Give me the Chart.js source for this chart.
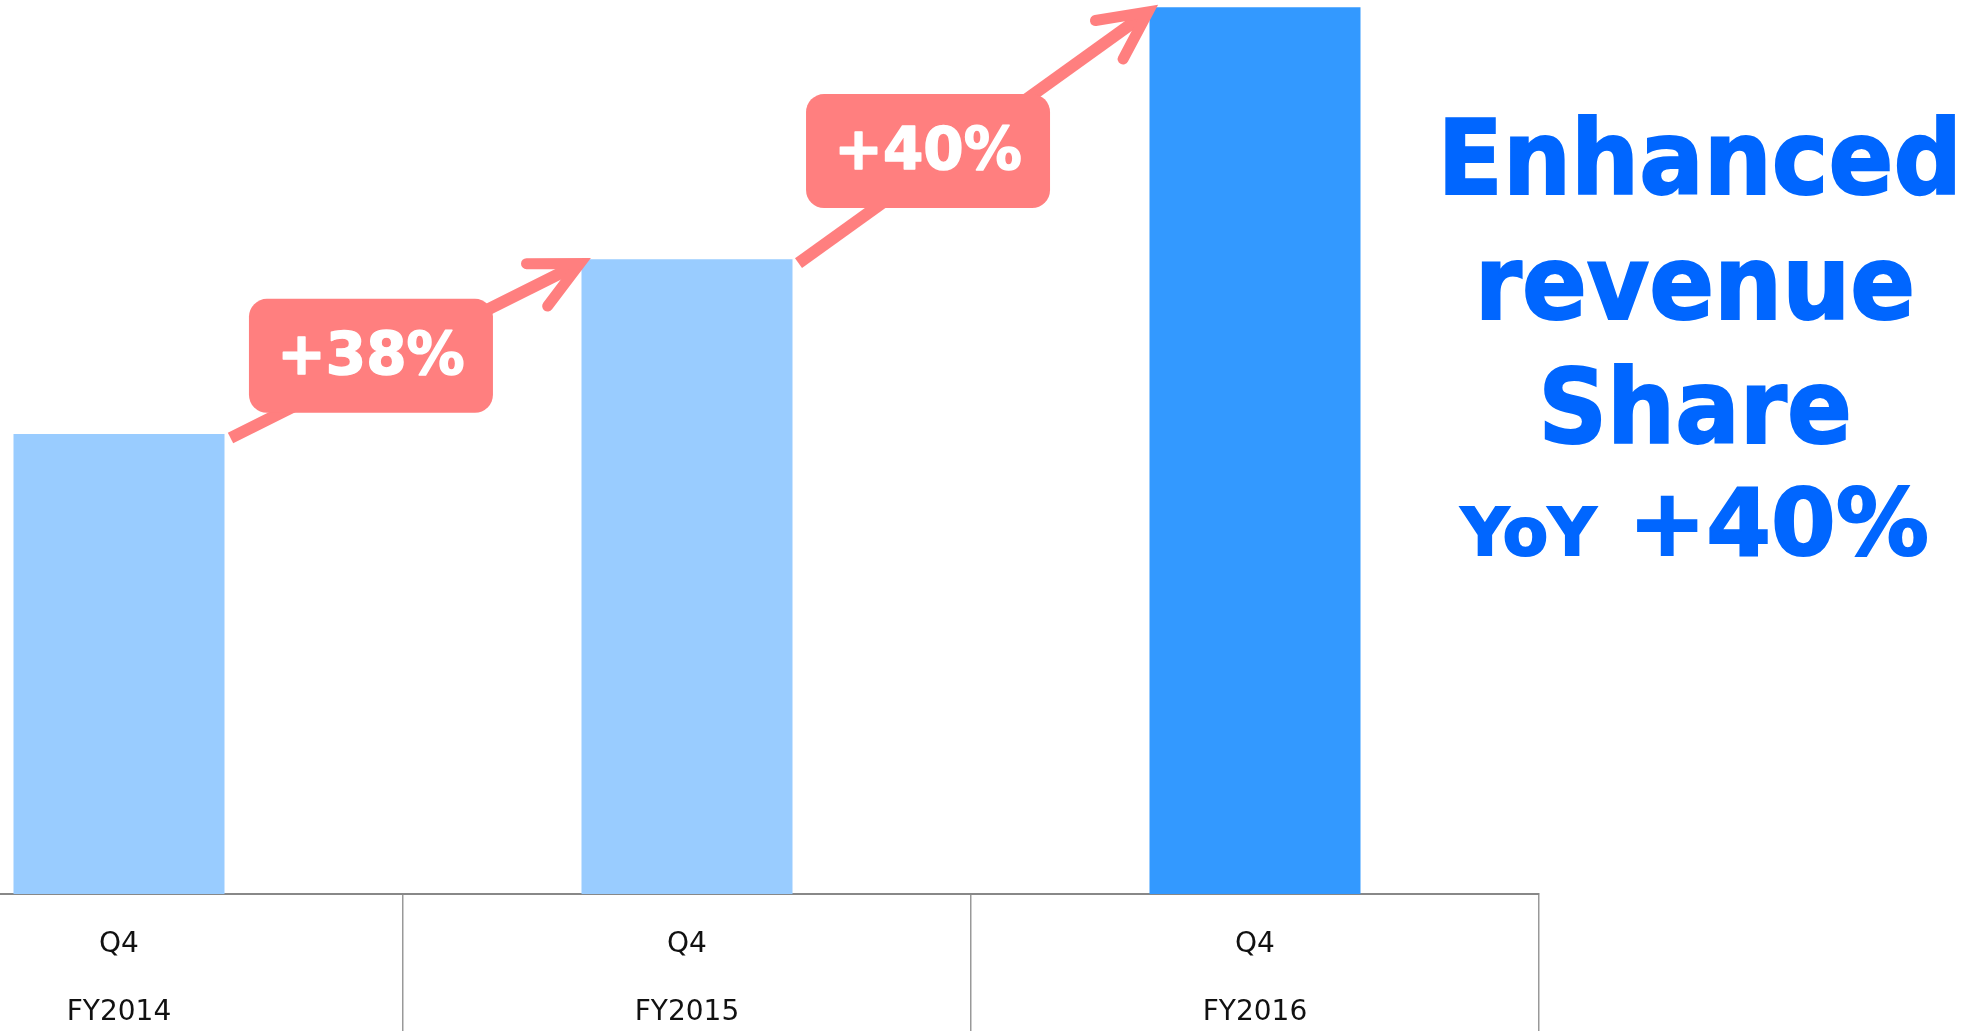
<!DOCTYPE html>
<html>
<head>
<meta charset="utf-8">
<script src="https://cdn.jsdelivr.net/npm/chart.js@4"></script>
<style>
  html, body { margin: 0; padding: 0; background: #fff; overflow: hidden; width: 1961px; height: 1031px; }
  #wrap { position: absolute; left: -165px; top: 0; width: 1710px; height: 1031px; }
  .head { position: absolute; left: 1425px; width: 540px; text-align: center; color: #0066FF;
          font-family: "DejaVu Sans", Verdana, sans-serif; font-weight: bold; white-space: nowrap;
          -webkit-text-stroke: 2px #0066FF; }
  .big { font-size: 104px; line-height: 104px; height: 104px; transform: scaleX(0.92); transform-origin: 50% 50%; }
  .yoy { font-size: 93px; line-height: 93px; height: 93px; }
  .yoy span { font-size: 66px; line-height: 66px; }
</style>
</head>
<body>
<div id="wrap"><canvas id="chart"></canvas></div>
<div class="head big" style="top:106px; left:1416px">Enhanced</div>
<div class="head big" style="top:231px">revenue</div>
<div class="head big" style="top:355px">Share</div>
<div class="head yoy" style="top:477px"><span>YoY</span> +40%</div>
<script>
// Quarter and fiscal year for each bar
const quarters = ['Q4', 'Q4', 'Q4'];
const fiscalYears = ['FY2014', 'FY2015', 'FY2016'];
// Enhanced revenue share, indexed to Q4 FY2014 = 100
const revenueIndex = [100, 138, 192.8];
const barColors = ['#99CCFF', '#99CCFF', '#3399FF'];

const categories = quarters.map((q, i) => [q, fiscalYears[i]]);
// Year-over-year growth labels derived from the series
const growthLabels = revenueIndex.slice(1).map((v, i) =>
  '+' + Math.round((v / revenueIndex[i] - 1) * 100) + '%');

const ARROW = '#FF7F7F';

// Draws the growth arrow and its rounded label between consecutive bars
const growthArrows = {
  id: 'growthArrows',
  afterDatasetsDraw(chart, args, opts) {
    const ctx = chart.ctx;
    const bars = chart.getDatasetMeta(0).data;
    for (let i = 0; i < bars.length - 1; i++) {
      const a = bars[i], b = bars[i + 1];
      const sx = a.x + a.width / 2 + 6, sy = a.y + 4;
      const ex = b.x - b.width / 2 + 1, ey = b.y + 3;
      const ang = Math.atan2(ey - sy, ex - sx);
      ctx.save();
      ctx.strokeStyle = ARROW;
      ctx.fillStyle = ARROW;
      ctx.lineWidth = 12;
      ctx.lineCap = 'butt';
      ctx.beginPath();
      ctx.moveTo(sx, sy);
      ctx.lineTo(ex - 6 * Math.cos(ang), ey - 6 * Math.sin(ang));
      ctx.stroke();
      // arrow head
      const L = 56, spread = 25 * Math.PI / 180;
      ctx.lineWidth = 11;
      ctx.lineCap = 'round';
      ctx.lineJoin = 'miter';
      ctx.beginPath();
      ctx.moveTo(ex - L * Math.cos(ang - spread), ey - L * Math.sin(ang - spread));
      ctx.lineTo(ex - 3 * Math.cos(ang), ey - 3 * Math.sin(ang));
      ctx.lineTo(ex - L * Math.cos(ang + spread), ey - L * Math.sin(ang + spread));
      ctx.stroke();
      // label box
      const t = opts.boxAt[i], dy = opts.boxLift[i];
      const cx = sx + t * (ex - sx), cy = sy + t * (ey - sy) + dy;
      const w = 244, h = 114;
      ctx.beginPath();
      ctx.roundRect(cx - w / 2, cy - h / 2, w, h, 18);
      ctx.fill();
      ctx.fillStyle = '#FFFFFF';
      ctx.strokeStyle = '#FFFFFF';
      ctx.lineWidth = 1.5;
      ctx.lineJoin = 'round';
      ctx.font = 'bold 58px "DejaVu Sans", Verdana, sans-serif';
      ctx.textAlign = 'center';
      ctx.textBaseline = 'middle';
      ctx.fillText(growthLabels[i], cx, cy + 3);
      ctx.strokeText(growthLabels[i], cx, cy + 3);
      ctx.restore();
    }
  }
};

new Chart(document.getElementById('chart'), {
  type: 'bar',
  data: {
    labels: categories,
    datasets: [{
      data: revenueIndex,
      backgroundColor: barColors,
      borderWidth: 0,
      categoryPercentage: 1,
      barPercentage: 0.3715
    }]
  },
  options: {
    responsive: true,
    maintainAspectRatio: false,
    animation: false,
    layout: { padding: { left: 0, right: 6, top: 0, bottom: 0 } },
    plugins: {
      legend: { display: false },
      tooltip: { enabled: false },
      growthArrows: { boxAt: [0.399, 0.368], boxLift: [-12, -19] }
    },
    scales: {
      x: {
        grid: { offset: true, drawOnChartArea: false, drawTicks: true, tickLength: 137, color: '#999999', lineWidth: 1.5 },
        border: { color: '#888888', width: 2 },
        ticks: {
          color: '#111111',
          padding: -120,
          maxRotation: 0,
          font: { family: '"DejaVu Sans", Verdana, sans-serif', size: 28, lineHeight: 2.43 }
        },
        afterFit(scale) { scale.height = 137; }
      },
      y: { display: false, min: 0, max: 194.35 }
    }
  },
  plugins: [growthArrows]
});
</script>
</body>
</html>
